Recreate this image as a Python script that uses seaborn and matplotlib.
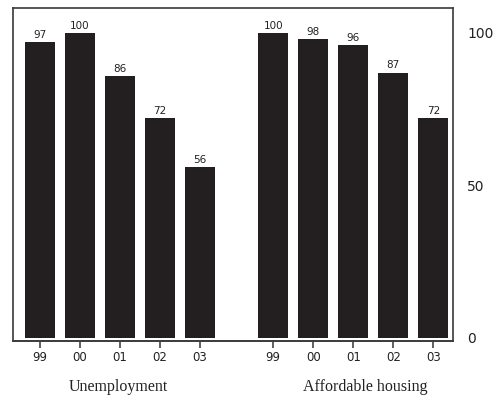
import matplotlib
matplotlib.use("Agg")
import matplotlib.pyplot as plt
import matplotlib.transforms as mtransforms
import numpy as np
import pandas as pd
import seaborn as sns

# Index values (peak year = 100)
years = ["99", "00", "01", "02", "03"]
groups = ["Unemployment", "Affordable housing"]
unemployment = [97, 100, 86, 72, 56]
housing = [100, 98, 96, 87, 72]

BAR = "#231f20"
FRAME = "#3a3a3a"

# slot positions: five bars per group, wider gap between the two groups
group_gap = 5.83
positions = [i for i in range(len(years))] + [group_gap + i for i in range(len(years))]
df = pd.DataFrame({
    "pos": positions,
    "value": unemployment + housing,
    "year": years + years,
})

sns.set_theme(style="ticks")
plt.rcParams["font.family"] = ["DejaVu Sans"]

fig = plt.figure(figsize=(4.93, 3.96), dpi=100)
ax = fig.add_axes([0.0264, 0.139, 0.893, 0.841])

sns.barplot(data=df, x="pos", y="value", native_scale=True, width=0.75,
            color=BAR, saturation=1, edgecolor="none", ax=ax)

for c in ax.containers:
    ax.bar_label(c, labels=[f"{v:g}" for v in df["value"]], padding=1.5,
                 fontsize=7.5, color="#222222")

ax.set_xlim(-0.675, group_gap + 4.5)
ax.set_ylim(-1, 108.2)

# year ticks on a secondary bottom axis sharing the data x scale
ax.set_xticks([])
sec = ax.secondary_xaxis("bottom")
sec.set_xticks(df["pos"])
sec.set_xticklabels(df["year"], fontsize=8.5, color="#222222")
sec.tick_params(axis="x", direction="out", length=5, width=1.2,
                color="#444444", pad=2.5)
sec.spines["bottom"].set_color(FRAME)
sec.spines["bottom"].set_linewidth(1.2)

ax.yaxis.tick_right()
ax.set_yticks([0, 50, 100])
ax.set_yticklabels(["0", "50", "100"], fontsize=10, color="#222222")
ax.tick_params(axis="y", length=0, pad=10)

ax.set_xlabel("")
ax.set_ylabel("")
for s in ax.spines.values():
    s.set_visible(True)
    s.set_color(FRAME)
    s.set_linewidth(1.2)

# group captions under each set of years
trans = mtransforms.blended_transform_factory(ax.transData, fig.transFigure)
label_x = [1.96, group_gap + 2.3]
for gx, name in zip(label_x, groups):
    ax.text(gx, 0.023, name, transform=trans, ha="center", va="center",
            fontsize=11.5, family="Liberation Serif", color="#222222")

fig.savefig("out.png", dpi=100)
